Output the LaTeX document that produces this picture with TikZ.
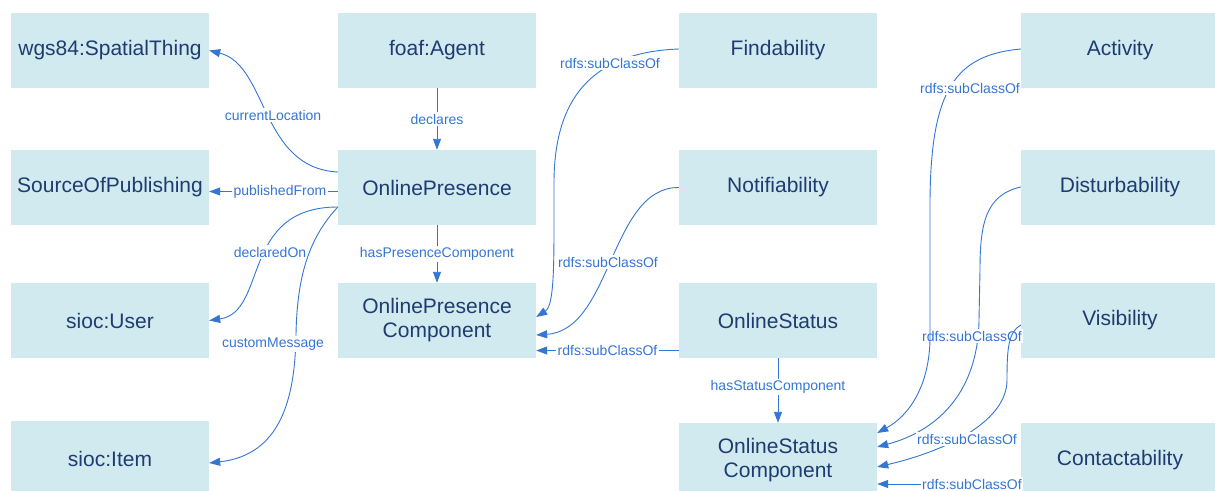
\documentclass[tikz,border=0pt]{standalone}
\usepackage{fontspec}
\setmainfont{Liberation Sans}
\usetikzlibrary{arrows.meta,calc}
\definecolor{boxfill}{RGB}{209,234,240}
\definecolor{boxtext}{RGB}{30,60,112}
\definecolor{edgecol}{RGB}{52,118,212}
\begin{document}
\begin{tikzpicture}[x=1pt,y=1pt,
  cls/.style={rectangle, fill=boxfill, text=boxtext, minimum width=198pt, minimum height=75pt,
    inner sep=0pt, align=center, font=\fontsize{21}{24}\selectfont},
  rel/.style={draw=edgecol, line width=0.9pt, -{Triangle[length=11pt,width=8pt]}},
  lbl/.style={fill=white, text=edgecol, inner sep=1.5pt, font=\fontsize{14}{16}\selectfont}]
\useasboundingbox (0,0) rectangle (1215,-490);
\fill[white] (0,0) rectangle (1215,-490);
\clip (0,0) rectangle (1215,-490);
% nodes
\node[cls] (wgs)   at (110,-50.5)  {wgs84:SpatialThing};
\node[cls] (agent) at (437,-50.5)  {foaf:Agent};
\node[cls] (find)  at (778,-50.5)  {Findability};
\node[cls] (act)   at (1120,-50.5) {Activity};
\node[cls] (sop)   at (110,-187.5) {SourceOfPublishing};
\node[cls] (op)    at (437,-187.5) {OnlinePresence};
\node[cls] (notif) at (778,-187.5) {Notifiability};
\node[cls] (dist)  at (1120,-187.5) {Disturbability};
\node[cls] (user)  at (110,-320.5) {sioc:User};
\node[cls] (opc)   at (437,-320.5) {OnlinePresence\\Component};
\node[cls] (os)    at (778,-320.5) {OnlineStatus};
\node[cls] (vis)   at (1120,-320.5) {Visibility};
\node[cls] (item)  at (110,-458.5) {sioc:Item};
\node[cls] (osc)   at (778,-460.5) {OnlineStatus\\Component};
\node[cls] (cont)  at (1120,-460.5) {Contactability};
% left part
\draw[rel] ($(op.west)+(0,15.5)$) .. controls (260,-168) and (268,-65) .. (wgs.east)
  node[lbl] at (273,-115) {currentLocation};
\draw[rel] (agent.south) -- (op.north) node[lbl,midway] {declares};
\draw[rel] ($(op.west)+(0,-4)$) -- ($(sop.east)+(0,-4)$) node[lbl,pos=0.45] {publishedFrom};
\draw[rel] ($(op.west)+(0,-19.5)$) .. controls (240,-207) and (268,-312) .. (user.east)
  node[lbl] at (270,-252) {declaredOn};
\draw[rel] ($(op.west)+(0,-19.5)$) .. controls (312,-235) and (297,-270) .. (296,-335)
  .. controls (295,-400) and (280,-455) .. ($(item.east)+(0,-4.5)$)
  node[lbl] at (273,-344) {customMessage};
\draw[rel] (op.south) -- (opc.north) node[lbl,midway] {hasPresenceComponent};
% middle part
\draw[rel] ($(find.west)+(0,1.5)$) .. controls (600,-52) and (555,-90) .. (554,-180)
  .. controls (554,-260) and (555,-305) .. ($(opc.east)+(0,3.5)$)
  node[lbl] at (610,-63) {rdfs:subClassOf};
\draw[rel] (notif.west) .. controls (610,-187) and (612,-330) .. ($(opc.east)+(0,-14.5)$)
  node[lbl] at (608,-262) {rdfs:subClassOf};
\draw[rel] ($(os.west)+(0,-30)$) -- ($(opc.east)+(0,-30)$) node[lbl,midway] {rdfs:subClassOf};
\draw[rel] (os.south) -- (osc.north) node[lbl,pos=0.45] {hasStatusComponent};
% right part
\draw[rel] ($(dist.west)+(0,0.5)$) .. controls (985,-195) and (980,-225) .. (980,-270)
  -- (979,-320) .. controls (978,-390) and (940,-430) .. ($(osc.east)+(0,13.5)$)
  node[lbl] at (972,-336) {rdfs:subClassOf};
\draw[rel] ($(act.west)+(0,1.5)$) .. controls (955,-55) and (931,-90) .. (930,-200)
  -- (930,-340) .. controls (929,-385) and (910,-415) .. ($(osc.east)+(0,27.5)$)
  node[lbl] at (970,-88) {rdfs:subClassOf};
\draw[rel] ($(vis.west)+(0,-4.5)$) .. controls (1008,-332) and (1007,-350) .. (1007,-380)
  .. controls (1007,-420) and (950,-450) .. ($(osc.east)+(0,-6.5)$)
  node[lbl] at (967,-439) {rdfs:subClassOf};
\draw[rel] ($(cont.west)+(0,-23.5)$) -- ($(osc.east)+(0,-23.5)$) node[lbl,pos=0.34] {rdfs:subClassOf};
\end{tikzpicture}
\end{document}
